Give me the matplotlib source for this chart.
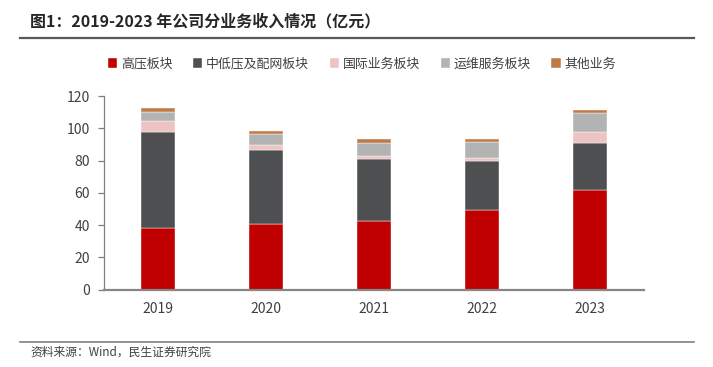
import matplotlib
matplotlib.use("Agg")
import matplotlib.pyplot as plt
from matplotlib.lines import Line2D
import numpy as np

plt.rcParams['font.family'] = ['Noto Sans CJK SC', 'DejaVu Sans']

years = ['2019', '2020', '2021', '2022', '2023']
series_names = ['高压板块', '中低压及配网板块', '国际业务板块', '运维服务板块', '其他业务']
high_voltage = [38.2, 40.5, 42.4, 49.4, 61.4]
mid_low_voltage = [59.6, 45.8, 38.3, 30.0, 29.2]
international = [6.7, 3.3, 2.0, 1.9, 7.0]
om_services = [5.7, 6.6, 8.3, 10.1, 12.0]
other = [2.3, 2.2, 2.5, 1.9, 1.9]
colors = ['#C00000', '#4D4F51', '#EDC3C3', '#B3B3B3', '#C07A48']

W, H = 713, 367
fig = plt.figure(figsize=(W / 100, H / 100), dpi=100)
ax = fig.add_axes([104 / W, 1 - 289.5 / H, (644 - 104) / W, (289.5 - 96) / H])

x = np.arange(len(years))
bottom = np.zeros(len(years))
handles = []
for name, vals, c in zip(series_names,
                         [high_voltage, mid_low_voltage, international, om_services, other],
                         colors):
    b = ax.bar(x, vals, width=0.32, bottom=bottom, color=c, label=name,
               edgecolor='white', linewidth=0.3)
    bottom += np.array(vals)
    handles.append(b)

ax.set_xlim(-0.5, len(years) - 0.5)
ax.set_ylim(0, 120)
ax.set_yticks(range(0, 121, 20))
ax.set_xticks(x)
ax.set_xticklabels(years)
for s in ['top', 'right']:
    ax.spines[s].set_visible(False)
ax.spines['left'].set_color('#7F7F7F')
ax.spines['left'].set_linewidth(0.9)
ax.spines['bottom'].set_color('#868686')
ax.spines['bottom'].set_linewidth(1.6)
ax.tick_params(axis='y', length=4, color='#7F7F7F', width=0.9, labelsize=10,
               labelcolor='#404040', pad=6)
ax.tick_params(axis='x', length=0, labelsize=10, labelcolor='#404040', pad=9)

fig.legend(handles=handles, labels=series_names, loc='center',
           bbox_to_anchor=(362 / W, 1 - 64 / H), ncol=5, frameon=False,
           fontsize=9.3, handlelength=0.7, handleheight=0.7, handletextpad=0.3,
           columnspacing=1.6, labelcolor='#404040')

fig.text(30 / W, 1 - 21 / H, '图1：2019-2023 年公司分业务收入情况（亿元）',
         fontsize=11.5, fontweight='bold', color='#262626', va='center', ha='left')
fig.add_artist(Line2D([20 / W, 694 / W], [1 - 37.5 / H, 1 - 37.5 / H],
                      color='#595959', linewidth=1.6, transform=fig.transFigure))
fig.add_artist(Line2D([20 / W, 694 / W], [1 - 342 / H, 1 - 342 / H],
                      color='#7F7F7F', linewidth=1.2, transform=fig.transFigure))
fig.text(30 / W, 1 - 352 / H, '资料来源：Wind，民生证券研究院',
         fontsize=8.5, color='#404040', va='center', ha='left')

fig.savefig('out.png', dpi=100)
